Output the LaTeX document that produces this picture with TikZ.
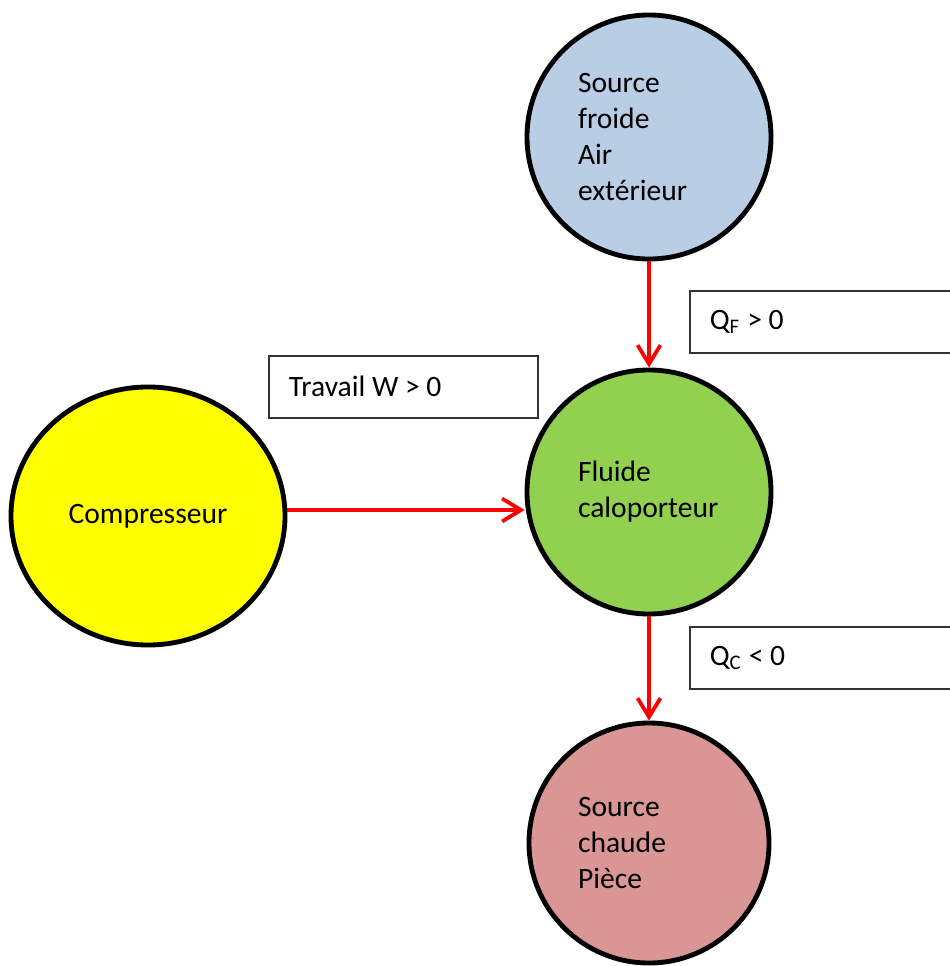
\documentclass[tikz,border=0pt]{standalone}
\usepackage{fontspec}
\setmainfont{Carlito}
\usetikzlibrary{shapes.geometric}
\usetikzlibrary{arrows.meta}
\usepackage{xcolor}

\definecolor{froid}{HTML}{B9CDE5}
\definecolor{fluide}{HTML}{92D050}
\definecolor{chaud}{HTML}{D99694}
\definecolor{compr}{HTML}{FFFF00}
\newcommand\pxu{0.372pt}
\newcommand\boxtxt[1]{\makebox[84.8pt][l]{#1}}

\begin{document}
\begin{tikzpicture}[x=0.372pt, y=-0.372pt,
	every node/.style = {font=\fontsize{11pt}{13.4pt}\selectfont},
	bulle/.style = {draw=black, circle, line width=1.8pt, inner sep=0pt, minimum size=244*\pxu, text width=142*\pxu, align=left},
	ovale/.style = {draw=black, ellipse, line width=1.8pt, inner sep=0pt, minimum width=274*\pxu, minimum height=258*\pxu},
	etiq/.style = {draw=black!80, rectangle, line width=0.6pt, anchor=north west, inner xsep=20*\pxu, inner ysep=0pt, minimum height=62*\pxu},
	flux/.style = {draw=red, line width=1.4pt, -{Straight Barb[length=7pt, width=8.5pt]}}
]
\useasboundingbox (0,0) rectangle (949,966);

% Three reservoirs around the heat-carrying fluid
\node[bulle, fill=froid] (froide) at (649,137) {Source\\froide\\Air\\extérieur};
\node[bulle, fill=fluide] (fluide) at (649,492) {Fluide\\caloporteur};
\node[bulle, fill=chaud, minimum size=240*\pxu] (chaude) at (649,843) {Source\\chaude\\Pièce};

% Work supplied by the compressor
\node[ovale, fill=compr] (compr) at (148,516) {Compresseur};

% Energy exchanges (text boxes, running off the right edge)
\node[etiq] (qf) at (689,290) {\boxtxt{Q\textsubscript{F} > 0}};
\node[etiq] (qc) at (689,626) {\boxtxt{Q\textsubscript{C} < 0}};
\node[etiq] (trav) at (268,355) {\makebox[85.3pt][l]{Travail W > 0}};

% Arrows
\coordinate (wy) at (0,510);
\draw[flux] (froide) -- (fluide);
\draw[flux] (fluide) -- (chaude);
\draw[flux] (compr.east |- wy) -- (fluide.west |- wy);

\end{tikzpicture}
\end{document}
